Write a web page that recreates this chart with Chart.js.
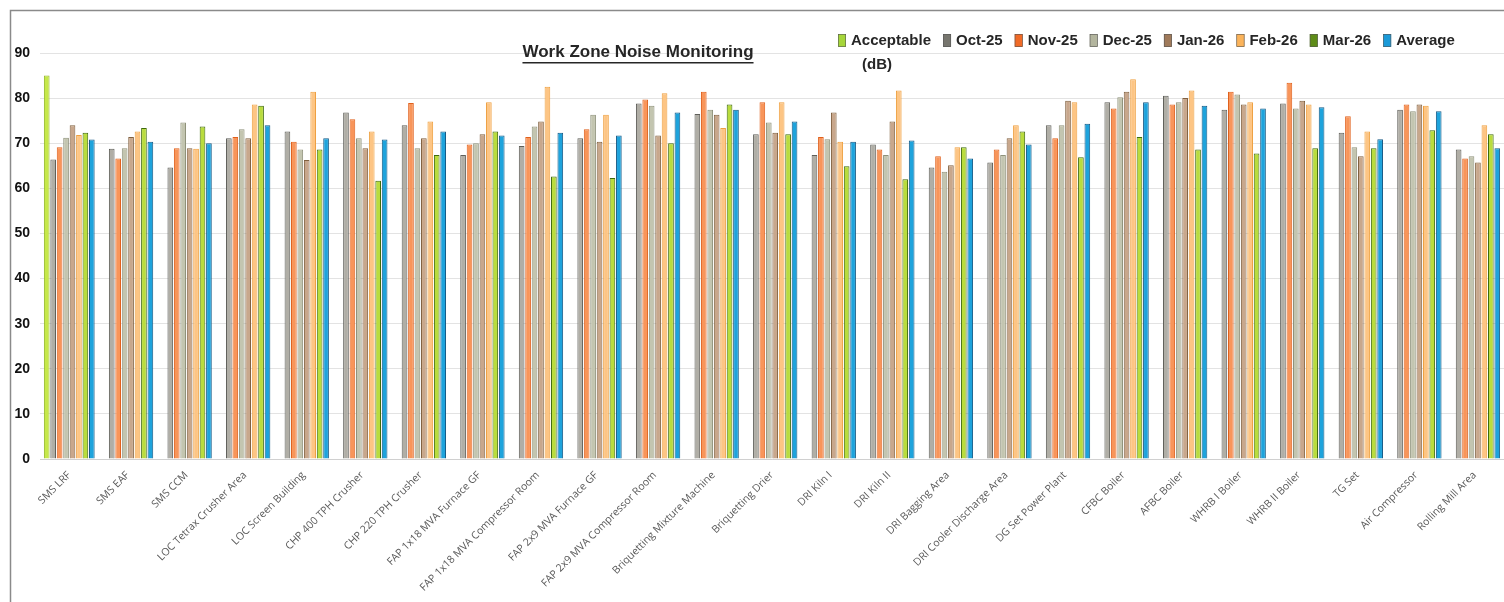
<!DOCTYPE html>
<html>
<head>
<meta charset="utf-8">
<script src="https://cdn.jsdelivr.net/npm/chart.js@4"></script>
<style>
  html, body { margin: 0; padding: 0; background: #fff; }
  #wrap { position: absolute; left: 0; top: 0; width: 1504px; height: 602px; }
</style>
</head>
<body>
<div id="wrap"><canvas id="noise" width="1504" height="602"></canvas></div>
<script>
const areas = [
  'SMS LRF', 'SMS EAF', 'SMS CCM', 'LOC Tetrax Crusher Area', 'LOC Screen Building',
  'CHP 400 TPH Crusher', 'CHP 220 TPH Crusher', 'FAP 1x18 MVA Furnace GF',
  'FAP 1x18 MVA Compressor Room', 'FAP 2x9 MVA Furnace GF', 'FAP 2x9 MVA Compressor Room',
  'Briquetting Mixture Machine', 'Briquetting Drier', 'DRI Kiln I', 'DRI Kiln II',
  'DRI Bagging Area', 'DRI Cooler Discharge Area', 'DG Set Power Plant', 'CFBC Boiler',
  'AFBC Boiler', 'WHRB I Boiler', 'WHRB II Boiler', 'TG Set', 'Air Compressor', 'Rolling Mill Area'
]

// only drawn for the first area in the source
const acceptable = [85, null, null, null, null, null, null, null, null, null, null, null, null,
  null, null, null, null, null, null, null, null, null, null, null, null]
const oct25 = [66.4, 68.8, 64.6, 71.1, 72.6, 76.8, 74.0, 67.4, 69.4, 71.1, 78.8, 76.5, 72.0,
  67.4, 69.7, 64.6, 65.7, 74.0, 79.1, 80.5, 77.4, 78.8, 72.3, 77.4, 68.6]
const nov25 = [69.1, 66.6, 68.9, 71.4, 70.3, 75.3, 78.9, 69.7, 71.4, 73.1, 79.7, 81.4, 79.1,
  71.4, 68.6, 67.1, 68.6, 71.1, 77.7, 78.6, 81.4, 83.4, 76.0, 78.6, 66.6]
const dec25 = [71.2, 68.9, 74.6, 73.1, 68.6, 71.1, 68.9, 70.0, 73.7, 76.3, 78.3, 77.4, 74.6,
  70.9, 67.4, 63.7, 67.4, 74.0, 80.2, 79.1, 80.8, 77.7, 69.1, 77.1, 67.1]
const jan26 = [74.0, 71.4, 68.9, 71.1, 66.3, 68.9, 71.1, 72.0, 74.8, 70.3, 71.7, 76.3, 72.3,
  76.8, 74.8, 65.1, 71.1, 79.4, 81.4, 80.0, 78.6, 79.4, 67.1, 78.6, 65.7]
const feb26 = [71.8, 72.6, 68.8, 78.6, 81.4, 72.6, 74.8, 79.1, 82.5, 76.3, 81.1, 73.4, 79.1,
  70.3, 81.7, 69.1, 74.0, 79.1, 84.2, 81.7, 79.1, 78.6, 72.6, 78.3, 74.0]
const mar26 = [72.3, 73.4, 73.7, 78.3, 68.6, 61.7, 67.4, 72.6, 62.6, 62.3, 70.0, 78.6, 72.0,
  64.9, 62.0, 69.1, 72.6, 66.9, 71.4, 68.6, 67.7, 68.9, 68.9, 72.9, 72.0]
const average = [70.8, 70.3, 70.0, 74.0, 71.1, 70.8, 72.6, 71.7, 72.3, 71.7, 76.8, 77.4, 74.8,
  70.3, 70.6, 66.6, 69.7, 74.3, 79.1, 78.3, 77.7, 78.0, 70.9, 77.1, 68.9]

const seriesNames = ['Acceptable', 'Oct-25', 'Nov-25', 'Dec-25', 'Jan-26', 'Feb-26', 'Mar-26', 'Average']
const yTicks = [0, 10, 20, 30, 40, 50, 60, 70, 80, 90]

const fills = ['#c6e84a', '#b0aea6', '#f8955a', '#c3c5b0', '#c8a78c', '#fdc584', '#b9dc3e', '#1ea3dc']
const borders = ['#95b82a', '#5f5f5a', '#e0601c', '#8e917a', '#80603f', '#eea040', '#3f6a0c', '#155a86']
const legendSwatch = ['#a6d63a', '#77766f', '#f06a26', '#b3b59e', '#a07a5a', '#fbb35a', '#5e8c18', '#1b9ad8']

const allData = [acceptable, oct25, nov25, dec25, jan26, feb26, mar26, average]

const datasets = allData.map((vals, i) => ({
  label: seriesNames[i],
  data: vals,
  backgroundColor: fills[i],
  borderColor: borders[i],
  borderWidth: 1,
  categoryPercentage: 0.88,
  barPercentage: 0.88
}))

// frame, title and legend are drawn straight on the canvas, overlapping the plot like the source
const decorations = {
  id: 'decorations',
  beforeDraw(chart) {
    const c = chart.ctx
    c.save()
    c.strokeStyle = '#8a8a8a'
    c.lineWidth = 1.5
    c.beginPath()
    c.moveTo(10.5, 602)
    c.lineTo(10.5, 10.5)
    c.lineTo(1504, 10.5)
    c.stroke()
    c.restore()
  },
  afterDraw(chart) {
    const c = chart.ctx
    c.save()
    c.fillStyle = '#262626'
    c.font = 'bold 17px "Liberation Sans", Arial, sans-serif'
    c.textBaseline = 'middle'
    const title = 'Work Zone Noise Monitoring'
    const tw = c.measureText(title).width
    const tx = 638 - tw / 2
    c.fillText(title, tx, 52)
    c.fillRect(tx, 62, tw, 1.5)

    c.font = 'bold 15px "Liberation Sans", Arial, sans-serif'
    let x = 838
    seriesNames.forEach((name, i) => {
      c.fillStyle = legendSwatch[i]
      c.fillRect(x, 34, 8, 13)
      c.strokeStyle = '#555'
      c.lineWidth = 0.6
      c.strokeRect(x + 0.3, 34.3, 7.4, 12.4)
      c.fillStyle = '#262626'
      c.fillText(name, x + 13, 41)
      x += 13 + c.measureText(name).width + 12
    })
    c.fillText('(dB)', 862, 65)
    c.restore()
  }
}

const ctx = document.getElementById('noise').getContext('2d')
new Chart(ctx, {
  type: 'bar',
  data: { labels: areas, datasets: datasets },
  options: {
    responsive: false,
    animation: false,
    layout: { padding: { top: 53, right: 0, left: 0, bottom: 0 } },
    plugins: {
      legend: { display: false },
      tooltip: { enabled: false }
    },
    scales: {
      x: {
        grid: { display: false },
        border: { color: '#d0d0d0' },
        ticks: {
          color: '#5a5a5a',
          font: { family: '"Open Sans", sans-serif', size: 10.5 },
          maxRotation: 45,
          minRotation: 45,
          autoSkip: false,
          padding: 2
        },
        afterFit(scale) { scale.height = 143 }
      },
      y: {
        min: 0,
        max: 90,
        afterBuildTicks(scale) { scale.ticks = yTicks.map(v => ({ value: v })) },
        grid: { color: '#e3e3e3', drawTicks: false },
        border: { display: false },
        ticks: {
          color: '#111',
          font: { family: '"Liberation Sans", Arial, sans-serif', size: 14, weight: 'bold' },
          padding: 10
        },
        afterFit(scale) { scale.width = 40 }
      }
    }
  },
  plugins: [decorations]
})
</script>
</body>
</html>
